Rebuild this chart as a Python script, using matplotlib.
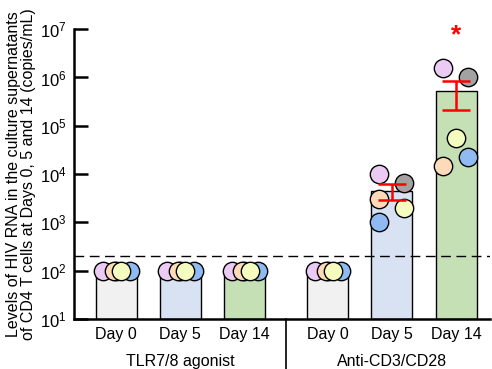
import numpy as np
import matplotlib
matplotlib.use("Agg")
import matplotlib.pyplot as plt

plt.rcParams.update({
    "font.family": ["Liberation Sans", "DejaVu Sans"],
    "font.size": 11,
})

# ── Data ─────────────────────────────────────────────────────────────────────
day_labels = ["Day 0", "Day 5", "Day 14", "Day 0", "Day 5", "Day 14"]
group_labels = ["TLR7/8 agonist", "Anti-CD3/CD28"]
donors = ["purple", "peach", "gray", "blue", "yellow"]

# HIV RNA (copies/mL) per donor, same order as `donors`
tlr_d0  = [100, 100, 100, 100, 100]
tlr_d5  = [100, 100, 100, 100, 100]
tlr_d14 = [100, 100, 100, 100, 100]
cd3_d0  = [100, 100, 100, 100, 100]
cd3_d5  = [10000, 3000, 6500, 1000, 2000]
cd3_d14 = [1.57e6, 1.5e4, 1.0e6, 2.3e4, 5.6e4]

detection_limit = 200

# ── Style ────────────────────────────────────────────────────────────────────
donor_colors = {"purple": "#EBCBF4", "peach": "#FDDAB8", "gray": "#A2A2A2",
                "blue": "#8FBBF2", "yellow": "#F4FCC0"}
bar_colors = ["#F1F1F1", "#D9E2F3", "#C6E0B5"] * 2
positions = [0, 1, 2, 3.3, 4.3, 5.3]

# horizontal jitter of each donor dot (same order as `donors`)
flat_jitter = [-0.2, -0.03, 0.0, 0.21, 0.08]
d5_jitter   = [-0.2, -0.2, 0.19, -0.2, 0.19]
d14_jitter  = [-0.2, -0.2, 0.19, 0.19, 0.0]
jitters = [flat_jitter, flat_jitter, flat_jitter, flat_jitter, d5_jitter, d14_jitter]
# drawing order of dots for the baseline columns (yellow on top)
flat_order = [2, 0, 1, 3, 4]

series = [tlr_d0, tlr_d5, tlr_d14, cd3_d0, cd3_d5, cd3_d14]

fig = plt.figure(figsize=(4.92, 3.69), dpi=100)
ax = fig.add_axes([0.150, 0.1355, 0.846, 0.7855])

ax.set_yscale("log")
ax.set_ylim(10, 1e7)
ax.set_xlim(-0.66, 5.83)

for i, (pos, vals) in enumerate(zip(positions, series)):
    vals = np.asarray(vals, dtype=float)
    mean = vals.mean()
    ax.bar(pos, mean - 10, bottom=10, width=0.64, color=bar_colors[i],
           edgecolor="black", linewidth=1.0, zorder=2)
    order = flat_order if np.allclose(vals, vals[0]) else range(len(vals))
    for k, j in enumerate(order):
        ax.scatter(pos + jitters[i][j], vals[j], s=175,
                   color=donor_colors[donors[j]], edgecolor="black",
                   linewidth=1.0, zorder=3 + k * 0.01)
    if vals.std() > 0:
        sem = vals.std(ddof=1) / np.sqrt(len(vals))
        ax.errorbar(pos, mean, yerr=sem, color="red", linewidth=1.8,
                    capsize=10, capthick=1.8, zorder=5)

# significance marker above Day 14 anti-CD3/CD28
ax.text(positions[5], 7.4e6, "*", color="red", fontsize=19, fontweight="bold",
        ha="center", va="center", zorder=6)

ax.axhline(detection_limit, color="black", linestyle=(0, (7, 4)),
           linewidth=1.0, zorder=4)

# ── Axes ─────────────────────────────────────────────────────────────────────
ax.spines["top"].set_visible(False)
ax.spines["right"].set_visible(False)
ax.spines["left"].set_linewidth(1.8)
ax.spines["bottom"].set_linewidth(1.8)
ax.set_yticks([10.0 ** k for k in range(1, 8)])
ax.yaxis.set_minor_locator(matplotlib.ticker.NullLocator())
ax.tick_params(axis="y", direction="in", length=10, width=1.8, labelsize=12, pad=5)
ax.set_xticks(positions)
ax.set_xticklabels(day_labels, fontsize=11.5)
ax.tick_params(axis="x", length=0, pad=6)

ax.set_ylabel("Levels of HIV RNA in the culture supernatants\n"
              "of CD4 T cells at Days 0, 5 and 14 (copies/mL)",
              fontsize=11.5, labelpad=3, linespacing=1.0)

# group labels and separator below the axis
trans = ax.get_xaxis_transform()
ax.text(positions[1], -0.145, group_labels[0], transform=trans,
        ha="center", va="center", fontsize=11.5)
ax.text(positions[4], -0.145, group_labels[1], transform=trans,
        ha="center", va="center", fontsize=11.5)
sep = (positions[2] + positions[3]) / 2
ax.plot([sep, sep], [0, -0.2], transform=trans, color="black",
        linewidth=1.2, clip_on=False)

fig.savefig("out.png", dpi=100)
